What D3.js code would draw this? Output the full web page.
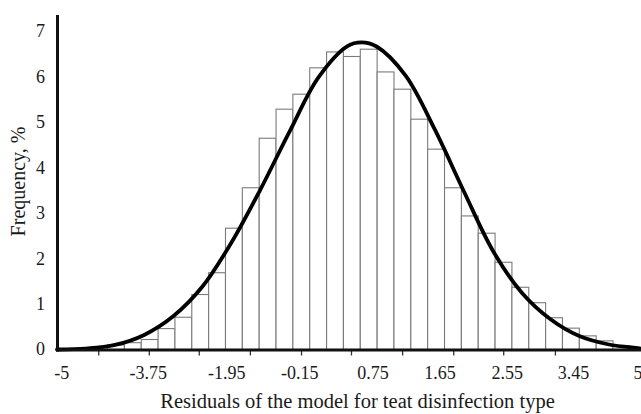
<!DOCTYPE html>
<html>
<head>
<meta charset="utf-8">
<script src="https://cdn.jsdelivr.net/npm/d3@7"></script>
<style>
  html, body { margin: 0; padding: 0; background: #fff; }
  svg { display: block; font-family: "Liberation Serif", "DejaVu Serif", serif; }
</style>
</head>
<body>
<svg id="chart" width="641" height="414"></svg>
<script>

// histogram bins: start at -5, width 0.29 (residual units)
const binStart = -5;
const binWidth = 0.29;

// frequency of each bin, %
const frequencies = [
  0.01, 0.02, 0.05, 0.10, 0.15, 0.22, 0.46, 0.71, 1.21, 1.69,
  2.67, 3.56, 4.65, 5.29, 5.62, 6.20, 6.55, 6.45, 6.61, 6.11,
  5.73, 5.07, 4.41, 3.56, 2.94, 2.56, 1.92, 1.37, 1.03, 0.70,
  0.47, 0.30, 0.19, 0.08
];

// fitted normal curve
const curveX = [
  -5.00, -4.50, -4.00, -3.50, -3.00, -2.50, -2.00, -1.50, -1.00, -0.50,
   0.00,  0.24,  0.50,  1.00,  1.50,  2.00,  2.50,  3.00,  3.50,  4.00,
   4.50,  5.00,  5.05
];
const curveY = [
  0.00, 0.02, 0.10, 0.32, 0.73, 1.38, 2.35, 3.52, 4.79, 5.99,
  6.68, 6.76, 6.67, 6.03, 4.85, 3.49, 2.18, 1.25, 0.66, 0.29,
  0.11, 0.03, 0.02
];

// x axis tick marks and the labels printed under the axis
const xTickMarks = [-4.29, -3.42, -2.56, -1.68, -0.80, 0.06, 0.94, 1.82, 2.68, 3.57];
const xTickLabels = ['-5', '-3.75', '-1.95', '-0.15', '0.75', '1.65', '2.55', '3.45', '5'];
const xTickLabelAt = [-4.92, -3.43, -2.08, -0.82, 0.44, 1.59, 2.75, 3.89, 5.00];

const yTicks = [0, 1, 2, 3, 4, 5, 6, 7];

const xTitle = 'Residuals of the model for teat disinfection type';
const yTitle = 'Frequency, %';


class Histogram {

  constructor(svg) {

    this._svg = d3.select(svg);
    this._width = +this._svg.attr('width');
    this._height = +this._svg.attr('height');

    this._x = d3.scaleLinear().domain([-5, 5]).range([57, 638]);
    this._y = d3.scaleLinear().domain([0, 7]).range([349.5, 31.5]);
  }


  render() {

    this._renderBars();
    this._renderCurve();
    this._renderAxes();
    this._renderTitles();
    return this;
  }


  _renderBars() {

    const x = this._x;
    const y = this._y;

    this._svg.append('g')
      .selectAll('rect')
      .data(frequencies)
      .join('rect')
      .attr('x', (d, i) => x(binStart + i * binWidth))
      .attr('width', (d, i) => x(binStart + (i + 1) * binWidth) - x(binStart + i * binWidth))
      .attr('y', d => y(d))
      .attr('height', d => y(0) - y(d))
      .style('fill', '#fff')
      .style('stroke', '#7a7a7a')
      .style('stroke-width', 1.1);
  }


  _renderCurve() {

    const x = this._x;
    const y = this._y;

    const line = d3.line()
      .x(d => x(d[0]))
      .y(d => y(d[1]))
      .curve(d3.curveCatmullRom.alpha(0.5));

    this._svg.append('path')
      .datum(d3.zip(curveX, curveY))
      .attr('d', line)
      .style('fill', 'none')
      .style('stroke', '#000')
      .style('stroke-width', 3.8)
      .style('stroke-linecap', 'round');
  }


  _renderAxes() {

    const x = this._x;
    const y = this._y;

    // tick marks under the x axis
    const xAxis = d3.axisBottom(x)
      .tickValues(xTickMarks)
      .tickSize(5)
      .tickFormat('');

    const gx = this._svg.append('g')
      .attr('transform', `translate(0,${y(0) + 1})`)
      .call(xAxis);

    gx.select('.domain').remove();
    gx.selectAll('.tick line')
      .style('stroke', '#333')
      .style('stroke-width', 1.3);

    // x labels sit at their own places, not on the tick marks
    this._svg.append('g')
      .selectAll('text')
      .data(xTickLabels)
      .join('text')
      .attr('x', (d, i) => x(xTickLabelAt[i]))
      .attr('y', 378.5)
      .attr('text-anchor', 'middle')
      .style('font-size', '18px')
      .style('fill', '#1a1a1a')
      .text(d => d);

    const yAxis = d3.axisLeft(y)
      .tickValues(yTicks)
      .tickFormat(d3.format('d'))
      .tickSize(0)
      .tickPadding(12.5);

    const gy = this._svg.append('g')
      .attr('transform', 'translate(57.5,0)')
      .call(yAxis);

    gy.select('.domain').remove();
    gy.selectAll('.tick text')
      .attr('dy', '0.3em')
      .style('font-family', '"Liberation Serif", serif')
      .style('font-size', '18px')
      .style('fill', '#1a1a1a');

    // heavy axis lines
    this._svg.append('line')
      .attr('x1', 56)
      .attr('x2', this._width)
      .attr('y1', y(0) + 0.5)
      .attr('y2', y(0) + 0.5)
      .style('stroke', '#111')
      .style('stroke-width', 3);

    this._svg.append('line')
      .attr('x1', 57.5)
      .attr('x2', 57.5)
      .attr('y1', 15)
      .attr('y2', y(0) + 2)
      .style('stroke', '#111')
      .style('stroke-width', 3);
  }


  _renderTitles() {

    this._svg.append('text')
      .attr('x', 357.5)
      .attr('y', 408)
      .attr('text-anchor', 'middle')
      .style('font-size', '20.5px')
      .style('fill', '#1a1a1a')
      .text(xTitle);

    this._svg.append('text')
      .attr('transform', 'translate(25,181.5) rotate(-90)')
      .attr('text-anchor', 'middle')
      .style('font-size', '20px')
      .style('fill', '#1a1a1a')
      .text(yTitle);
  }
}


new Histogram(document.getElementById('chart')).render();

</script>
</body>
</html>
